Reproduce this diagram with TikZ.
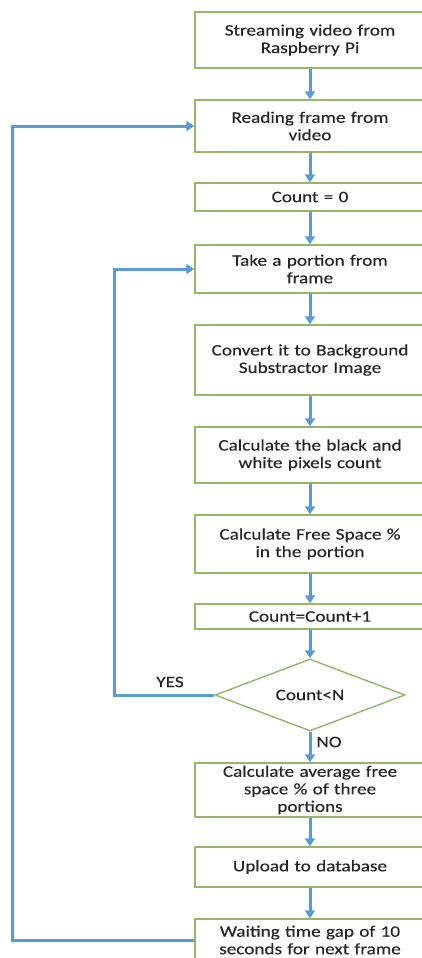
\documentclass[tikz,border=0pt]{standalone}
\usepackage{fontspec}
\setmainfont[FakeStretch=1.2,FakeBold=0.3]{Carlito}
\usetikzlibrary{shapes.geometric,arrows.meta}
\definecolor{boxgreen}{HTML}{98B46A}
\definecolor{arrowblue}{HTML}{5B9BD5}
\definecolor{txt}{HTML}{262626}
\begin{document}
\begin{tikzpicture}[x=1pt,y=-1pt,
  stepbox/.style={draw=boxgreen,line width=1.4pt,fill=white,minimum width=230pt,
    text width=226pt,align=center,inner sep=0pt,
    font=\fontsize{16}{17.5}\selectfont,text=txt},
  decision/.style={draw=boxgreen,line width=1.4pt,fill=white,diamond,aspect=2.6,
    minimum width=190pt,minimum height=72pt,inner sep=0pt,
    font=\fontsize{16}{17.5}\selectfont,text=txt},
  lbl/.style={font=\fontsize{16}{17.5}\selectfont,text=txt,inner sep=0pt},
  flow/.style={draw=arrowblue,line width=3pt,-{Triangle[width=10pt,length=8pt]}}]
\useasboundingbox (0,0) rectangle (422,958);
\clip (0,0) rectangle (422,958);
\fill[white] (0,0) rectangle (422,958);
\node[stepbox,minimum height=56pt] (n1) at (310,40) {Streaming video from\\Raspberry Pi};
\node[stepbox,minimum height=52pt] (n2) at (310,126) {Reading frame from\\video};
\node[stepbox,minimum height=28pt] (n3) at (310,197) {Count = 0};
\node[stepbox,minimum height=48pt] (n4) at (310,269) {Take a portion from\\frame};
\node[stepbox,minimum height=70pt] (n5) at (310,360) {Convert it to Background\\Substractor Image};
\node[stepbox,minimum height=56pt] (n6) at (310,455) {Calculate the black and\\white pixels count};
\node[stepbox,minimum height=58pt] (n7) at (310,544) {Calculate Free Space \%\\in the portion};
\node[stepbox,minimum height=25pt] (n8) at (310,616.5) {Count=Count+1};
\node[decision] (d) at (310,695) {\raisebox{-8pt}{Count<N}};
\node[stepbox,minimum height=54pt] (n9) at (310,790) {Calculate average free\\space \% of three\\portions};
\node[stepbox,minimum height=40pt] (n10) at (310,867) {Upload to database};
\node[stepbox,minimum height=42pt] (n11) at (310,940) {Waiting time gap of 10\\seconds for next frame};
\node[lbl] (yes) at (170,682) {YES};
\node[lbl] (no) at (329,742) {NO};
\coordinate (outer) at (12,0);
\draw[flow] (n1.south) -- (n2.north);
\draw[flow] (n2.south) -- (n3.north);
\draw[flow] (n3.south) -- (n4.north);
\draw[flow] (n4.south) -- (n5.north);
\draw[flow] (n5.south) -- (n6.north);
\draw[flow] (n6.south) -- (n7.north);
\draw[flow] (n7.south) -- (n8.north);
\draw[flow] (n8.south) -- (d.north);
\draw[flow] (d.south) -- (n9.north);
\draw[flow] (n9.south) -- (n10.north);
\draw[flow] (n10.south) -- (n11.north);
\draw[flow] (d.west) -- ++(-100,0) |- (n4.west);
\draw[flow] (n11.west) -- (n11.west -| outer) |- (n2.west);
\end{tikzpicture}
\end{document}
